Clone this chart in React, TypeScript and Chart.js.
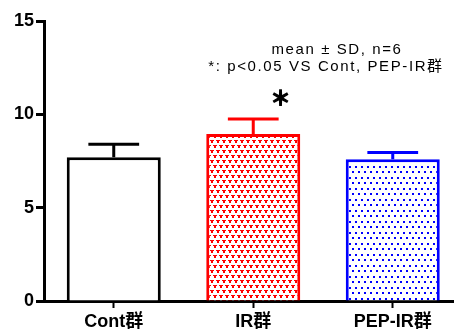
import React, { useEffect, useRef } from 'react';
import { Chart, registerables } from 'chart.js';

Chart.register(...registerables);

const categories = ['Cont群', 'IR群', 'PEP-IR群'];
const meanValues = [7.7, 8.95, 7.6];
const sdValues = [0.7, 0.8, 0.35];
const significanceMarks = ['', '＊', ''];
const yTickValues = [0, 5, 10, 15];
const noteLines = ['mean ± SD, n=6', '*: p<0.05 VS Cont, PEP-IR群'];
const barColors = ['#000000', '#ff0000', '#0000ff'];

const FONT_FAMILY = '"Liberation Sans", Arial, "Noto Sans CJK JP", sans-serif';

function makeRedPattern(ctx: CanvasRenderingContext2D) {
  const tile = document.createElement('canvas');
  tile.width = 6;
  tile.height = 10;
  const t = tile.getContext('2d')!;
  t.fillStyle = '#ffffff';
  t.fillRect(0, 0, 6, 10);
  t.fillStyle = '#ff0000';
  const shape = (ox: number, oy: number) => {
    const px = [
      [0, 0], [1, 0], [2, 0], [3, 0],
      [1, 1], [2, 1],
      [1, 2], [2, 2],
    ];
    px.forEach(([x, y]) => t.fillRect((ox + x) % 6, (oy + y) % 10, 1, 1));
  };
  shape(0, 0);
  shape(3, 5);
  return ctx.createPattern(tile, 'repeat')!;
}

function makeBluePattern(ctx: CanvasRenderingContext2D) {
  const tile = document.createElement('canvas');
  tile.width = 6;
  tile.height = 11;
  const t = tile.getContext('2d')!;
  t.fillStyle = '#ffffff';
  t.fillRect(0, 0, 6, 11);
  t.fillStyle = '#0000ff';
  t.fillRect(1, 1, 2, 2);
  t.fillRect(4, 6, 2, 2);
  return ctx.createPattern(tile, 'repeat')!;
}

const errorBarPlugin = {
  id: 'errorBars',
  afterDatasetsDraw(chart: any) {
    const ctx = chart.ctx as CanvasRenderingContext2D;
    const yScale = chart.scales.y;
    const meta = chart.getDatasetMeta(0);
    ctx.save();
    meta.data.forEach((bar: any, i: number) => {
      const x = bar.x;
      const base = yScale.getPixelForValue(meanValues[i]);
      const top = yScale.getPixelForValue(meanValues[i] + sdValues[i]);
      const capHalf = bar.width * 0.27;
      ctx.strokeStyle = barColors[i];
      ctx.lineWidth = 3;
      ctx.lineCap = 'butt';
      ctx.beginPath();
      ctx.moveTo(x, base);
      ctx.lineTo(x, top);
      ctx.moveTo(x - capHalf, top);
      ctx.lineTo(x + capHalf, top);
      ctx.stroke();
      if (significanceMarks[i]) {
        ctx.fillStyle = '#000000';
        ctx.strokeStyle = '#000000';
        ctx.lineWidth = 1.3;
        ctx.font = 'bold 20px "Noto Sans CJK JP", sans-serif';
        ctx.textAlign = 'center';
        ctx.textBaseline = 'middle';
        const mx = x + bar.width * 0.29;
        const my = top - 21;
        ctx.fillText(significanceMarks[i], mx, my);
        ctx.strokeText(significanceMarks[i], mx, my);
      }
    });
    ctx.restore();
  },
};

const notePlugin = {
  id: 'note',
  afterDraw(chart: any) {
    const ctx = chart.ctx as CanvasRenderingContext2D;
    ctx.save();
    ctx.fillStyle = '#000000';
    ctx.font = '15px ' + FONT_FAMILY;
    (ctx as any).letterSpacing = '1.6px';
    ctx.textAlign = 'center';
    ctx.textBaseline = 'alphabetic';
    const centers = [337, 326];
    const baselines = [54, 71];
    noteLines.forEach((line, i) => {
      ctx.fillText(line, centers[i], baselines[i]);
    });
    ctx.restore();
  },
};

export default function App() {
  const canvasRef = useRef<HTMLCanvasElement | null>(null);

  useEffect(() => {
    const canvas = canvasRef.current!;
    const ctx = canvas.getContext('2d')!;
    const fills = ['#ffffff', makeRedPattern(ctx), makeBluePattern(ctx)];
    const chart = new Chart(canvas, {
      type: 'bar',
      data: {
        labels: categories,
        datasets: [
          {
            data: meanValues,
            backgroundColor: fills as any,
            borderColor: barColors,
            borderWidth: 3,
            borderSkipped: 'bottom',
            barPercentage: 0.674,
            categoryPercentage: 1,
          },
        ],
      },
      options: {
        responsive: false,
        animation: false,
        devicePixelRatio: 1,
        layout: { padding: { top: 21, right: 7.5, left: 0, bottom: 0 } },
        plugins: {
          legend: { display: false },
          tooltip: { enabled: false },
          title: { display: false },
        },
        scales: {
          x: {
            grid: {
              display: true,
              drawOnChartArea: false,
              drawTicks: true,
              offset: false,
              tickLength: 7,
              tickWidth: 2,
              color: '#000000',
            },
            border: { display: true, color: '#000000', width: 3 },
            ticks: {
              color: '#000000',
              padding: 3,
              font: { family: FONT_FAMILY, size: 18, weight: 'bold' },
              maxRotation: 0,
            },
            afterFit(scale: any) {
              scale.height = 28;
            },
          },
          y: {
            min: 0,
            max: 15,
            afterBuildTicks(scale: any) {
              scale.ticks = yTickValues.map((v) => ({ value: v }));
            },
            grid: {
              display: true,
              drawOnChartArea: false,
              drawTicks: true,
              tickLength: 8,
              tickWidth: 3,
              color: '#000000',
            },
            border: { display: true, color: '#000000', width: 3 },
            ticks: {
              color: '#000000',
              padding: 2,
              font: { family: FONT_FAMILY, size: 18, weight: 'bold' },
            },
            afterFit(scale: any) {
              scale.width = 44;
            },
          },
        },
      },
      plugins: [errorBarPlugin, notePlugin],
    });
    return () => chart.destroy();
  }, []);

  return (
    <div
      style={{
        position: 'fixed',
        left: 0,
        top: 0,
        width: 454,
        height: 329,
        overflow: 'hidden',
        background: '#ffffff',
      }}
    >
      <canvas ref={canvasRef} width={470} height={329} style={{ display: 'block' }} />
    </div>
  );
}
